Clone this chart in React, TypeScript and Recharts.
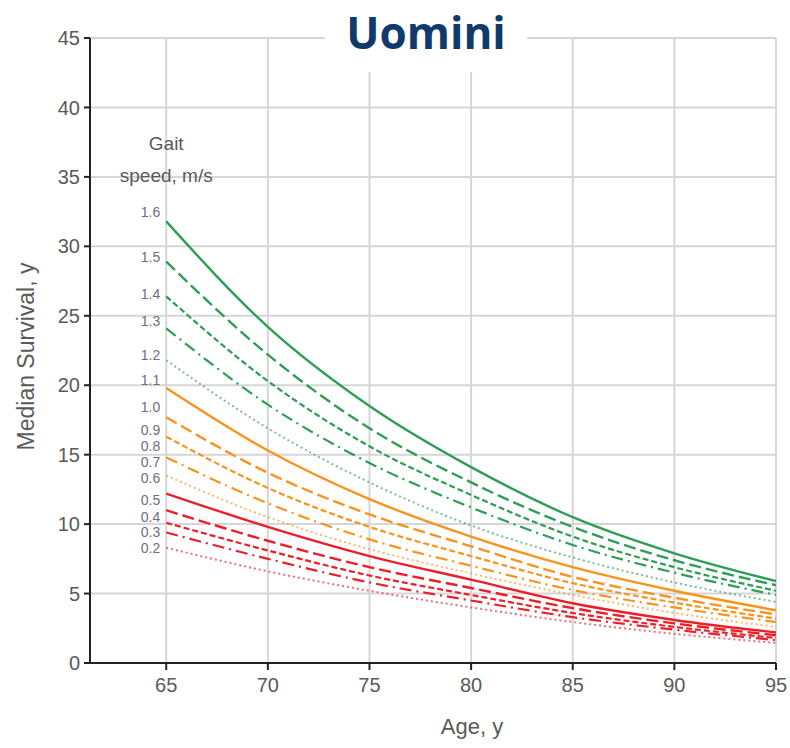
import {
  LineChart,
  Line,
  XAxis,
  YAxis,
  CartesianGrid,
  ReferenceDot,
} from "recharts";

// ages on the x axis
const ages = [65, 70, 75, 80, 85, 90, 95];

// median survival (years) per gait speed, read at each age
const surv16 = [31.8, 24.2, 18.5, 14.1, 10.5, 7.9, 5.9];
const surv15 = [28.9, 22.2, 16.9, 13.0, 9.8, 7.4, 5.6];
const surv14 = [26.4, 20.3, 15.6, 12.1, 9.1, 6.9, 5.2];
const surv13 = [24.1, 18.6, 14.4, 11.2, 8.5, 6.5, 4.9];
const surv12 = [21.8, 16.9, 13.0, 9.9, 7.6, 5.8, 4.4];
const surv11 = [19.8, 15.3, 11.8, 9.1, 6.9, 5.2, 3.8];
const surv10 = [17.7, 13.7, 10.7, 8.4, 6.2, 4.7, 3.5];
const surv09 = [16.3, 12.6, 9.8, 7.7, 5.75, 4.35, 3.2];
const surv08 = [14.8, 11.5, 8.9, 7.0, 5.25, 4.0, 2.95];
const surv07 = [13.5, 10.5, 8.2, 6.45, 4.9, 3.6, 2.6];
const surv06 = [12.2, 9.8, 7.7, 6.0, 4.3, 3.1, 2.2];
const surv05 = [11.0, 8.8, 6.9, 5.4, 3.95, 2.85, 2.0];
const surv04 = [10.1, 8.1, 6.3, 4.9, 3.6, 2.6, 1.8];
const surv03 = [9.4, 7.5, 5.8, 4.5, 3.3, 2.4, 1.65];
const surv02 = [8.3, 6.6, 5.2, 4.0, 2.95, 2.1, 1.45];

// speed labels and where they sit on the y scale (at age 65)
const speedLabels = ["1.6", "1.5", "1.4", "1.3", "1.2", "1.1", "1.0", "0.9", "0.8", "0.7", "0.6", "0.5", "0.4", "0.3", "0.2"];
const labelLevels = [32.5, 29.2, 26.6, 24.6, 22.2, 20.4, 18.4, 16.8, 15.6, 14.45, 13.35, 11.7, 10.5, 9.4, 8.3];

const xTicks = [65, 70, 75, 80, 85, 90, 95];
const yTicks = [0, 5, 10, 15, 20, 25, 30, 35, 40, 45];

const allSurv = [surv16, surv15, surv14, surv13, surv12, surv11, surv10, surv09, surv08, surv07, surv06, surv05, surv04, surv03, surv02];

const data = ages.map((age, i) => {
  const row: Record<string, number> = { age };
  allSurv.forEach((s, k) => {
    row["s" + k] = s[i];
  });
  return row;
});

const GREEN = "#2f9e55";
const ORANGE = "#f7941e";
const RED = "#e8202a";

// one style per position within a colour group: solid, long dash, dash, dash-dot, dotted
const groupStyles = [
  { dash: undefined, width: 2.4, opacity: 1 },
  { dash: "12 5", width: 2.4, opacity: 1 },
  { dash: "6 3", width: 2.2, opacity: 1 },
  { dash: "12 5 2 5", width: 2.2, opacity: 1 },
  { dash: "2 3", width: 2, opacity: 0.65 },
];
const groupColors = [GREEN, ORANGE, RED];

const FONT = "'Liberation Sans', Arial, sans-serif";
const tickStyle = { fill: "#5a5a5a", fontSize: 20, fontFamily: FONT };

export default function App() {
  return (
    <div style={{ position: "absolute", left: 0, top: 0, width: 790, height: 748, background: "#fff" }}>
      <LineChart
        width={790}
        height={748}
        data={data}
        margin={{ top: 38, right: 14, bottom: 0, left: 0 }}
      >
        <CartesianGrid stroke="#d6d6d9" strokeWidth={2} horizontalValues={yTicks.slice(1)} verticalValues={xTicks} />
        <XAxis
          type="number"
          dataKey="age"
          domain={[61.25, 95]}
          ticks={xTicks}
          height={85}
          allowDataOverflow
          stroke="#222"
          strokeWidth={2}
          tickSize={7}
          tickMargin={8}
          tick={tickStyle}
          label={({ viewBox }: any) => (
            <text
              x={viewBox.x + viewBox.width / 2 + 39}
              y={viewBox.y + 65}
              textAnchor="middle"
              dominantBaseline="middle"
              fill="#5a5a5a"
              fontSize={22}
              fontFamily={FONT}
            >
              Age, y
            </text>
          )}
        />
        <YAxis
          type="number"
          domain={[0, 45]}
          ticks={yTicks}
          width={90}
          stroke="#222"
          strokeWidth={2}
          tickSize={6}
          tickMargin={4}
          tick={tickStyle}
          label={({ viewBox }: any) => (
            <text
              x={28}
              y={viewBox.y + viewBox.height / 2 + 6}
              transform={`rotate(-90, 28, ${viewBox.y + viewBox.height / 2 + 6})`}
              textAnchor="middle"
              dominantBaseline="middle"
              fill="#5a5a5a"
              fontSize={23}
              fontFamily={FONT}
            >
              Median Survival, y
            </text>
          )}
        />
        {allSurv.map((_, k) => {
          const st = groupStyles[k % 5];
          const color = groupColors[Math.floor(k / 5)];
          return (
            <Line
              key={k}
              type="monotone"
              dataKey={"s" + k}
              stroke={color}
              strokeWidth={st.width}
              strokeDasharray={st.dash}
              strokeOpacity={st.opacity}
              dot={false}
              isAnimationActive={false}
            />
          );
        })}
        <ReferenceDot
          x={65}
          y={37.4}
          r={0}
          stroke="none"
          label={{ value: "Gait", position: "center", fill: "#5a5a5a", fontSize: 19, fontFamily: FONT }}
        />
        <ReferenceDot
          x={65}
          y={35.1}
          r={0}
          stroke="none"
          label={{ value: "speed, m/s", position: "center", fill: "#5a5a5a", fontSize: 19, fontFamily: FONT }}
        />
        {speedLabels.map((s, k) => (
          <ReferenceDot
            key={s}
            x={65}
            y={labelLevels[k]}
            r={0}
            stroke="none"
            label={{ value: s, position: "left", offset: 6, fill: "#6b6f80", fontSize: 14, fontFamily: FONT }}
          />
        ))}
      </LineChart>
      <div
        style={{
          position: "absolute",
          left: 325,
          top: 0,
          width: 202,
          height: 72,
          background: "#fff",
          color: "#0f3a6b",
          fontFamily: "'Open Sans', 'Noto Sans', sans-serif",
          fontWeight: 700,
          fontSize: 44,
          lineHeight: "64px",
          textAlign: "center",
        }}
      >
        Uomini
      </div>
    </div>
  );
}
